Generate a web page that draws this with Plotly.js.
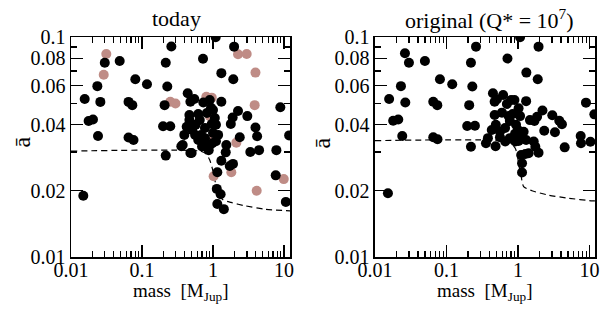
<!DOCTYPE html>
<html>
<head>
<meta charset="utf-8">
<script src="https://cdn.plot.ly/plotly-3.0.1.min.js"></script>
<style>html,body{margin:0;padding:0;background:#fff;}#chart{width:600px;height:310px;}</style>
</head>
<body>
<div id="chart"></div>
<script>
// ---- data: left panel ("today") ----
const leftBlackX = [0.0149,0.0156,0.0177,0.0204,0.0235,0.0240,0.0259,0.0299,0.0485,0.0646,0.0730,0.0646,0.0759,0.0805,0.1175,
  0.259,0.216,0.227,0.208,0.198,0.250,0.216,0.48,
  1.09,1.98,0.723,1.31,1.93,8.87,2.25,1.89,1.78,3.04,3.96,4.18,2.38,11.8,3.35,4.45,7.80,1.54,1.51,1.31,1.72,1.91,1.15,7.64,1.13,1.28,1.15,1.42,10.6,
  0.44,0.545,0.48,0.899,1.31,0.937,1.0,0.73,0.465,0.62,0.426,0.57,0.465,0.96,1.10,0.394,0.56,0.68,1.0,1.18,0.374,0.50,0.70,0.899,0.977,0.87,0.358,0.77,0.65,0.82,1.06,0.62,0.51,0.77,1.10];
const leftBlackY = [0.0190,0.0523,0.0415,0.0422,0.0598,0.0355,0.0507,0.0764,0.0778,0.0507,0.0490,0.0349,0.0340,0.0643,0.0610,
  0.0905,0.0764,0.0596,0.0490,0.0393,0.0393,0.0289,0.0297,
  0.0997,0.0904,0.0796,0.0685,0.0643,0.0479,0.0461,0.0431,0.0402,0.0437,0.0388,0.0354,0.0350,0.0357,0.0300,0.0306,0.0306,0.0323,0.0299,0.0274,0.0259,0.0265,0.0243,0.0235,0.0204,0.0193,0.0174,0.0165,0.0178,
  0.0555,0.0523,0.0508,0.0517,0.0508,0.0477,0.0466,0.0504,0.0442,0.0447,0.0391,0.0399,0.0419,0.0402,0.0399,0.0359,0.0359,0.0359,0.0366,0.0359,0.0323,0.0297,0.0318,0.0323,0.0329,0.0306,0.0319,0.0386,0.0419,0.0451,0.0428,0.0340,0.0378,0.0347,0.0336];
const leftPinkX = [0.0314,0.0289,0.250,0.296,2.25,2.98,3.96,3.86,2.13,1.02,1.81,4.12,9.91,0.805,0.96,0.90,0.90];
const leftPinkY = [0.0837,0.0674,0.0508,0.0499,0.0835,0.0837,0.0689,0.0490,0.0331,0.0233,0.0243,0.0200,0.0226,0.0535,0.0530,0.0437,0.0334];
const leftCurveX = [0.01,0.656,0.805,0.899,0.977,1.05,1.17,1.38,1.80,2.80,5.3,12.2];
const leftCurveY = [0.0303,0.0303,0.0294,0.0276,0.0253,0.0228,0.0195,0.0182,0.0177,0.0171,0.0165,0.0162];

// ---- data: right panel ("original") ----
const rightX = [0.0152,0.0158,0.0180,0.0212,0.0231,0.0241,0.0266,0.0263,0.0299,0.0500,0.0654,0.0745,0.0654,0.075,0.0811,0.1205,
  0.220,0.259,0.230,0.208,0.195,0.250,0.220,
  1.07,1.94,0.713,1.31,1.89,0.447,0.508,0.472,0.893,1.30,8.93,11.7,2.20,1.02,1.85,1.70,3.02,3.78,4.12,0.597,0.472,0.741,0.843,2.33,3.29,7.53,7.60,10.3,
  0.357,0.486,0.664,0.917,1.02,1.66,1.75,1.94,1.11,1.27,1.41,1.14,1.14,4.50,
  0.43,0.49,0.56,0.66,0.77,0.94,1.0,1.06,0.91,1.20,0.77,0.56,1.30,0.38,1.47,0.70,1.07,0.62,0.80];
const rightY = [0.0195,0.0523,0.0416,0.0422,0.0598,0.0355,0.0504,0.0843,0.0764,0.0778,0.0508,0.0490,0.0350,0.0343,0.0643,0.0610,
  0.0764,0.0904,0.0596,0.0490,0.0394,0.0395,0.0317,
  0.0997,0.0904,0.0798,0.0689,0.0643,0.0555,0.0521,0.0508,0.0517,0.0511,0.0503,0.0445,0.0463,0.0474,0.0434,0.0415,0.0441,0.0416,0.0401,0.0453,0.0442,0.0437,0.0447,0.0375,0.0369,0.0355,0.0329,0.0334,
  0.0329,0.0319,0.0335,0.0335,0.0337,0.0335,0.0317,0.0298,0.0291,0.0294,0.0296,0.0267,0.0242,0.0315,
  0.0378,0.0399,0.0371,0.0386,0.0415,0.0399,0.0378,0.0359,0.0363,0.0371,0.0347,0.0350,0.0340,0.0347,0.0419,0.0496,0.0437,0.0545,0.0517];
const rightCurveX = [0.01,0.658,0.824,0.916,0.968,1.04,1.11,1.20,1.57,2.69,5.12,10.8,11.9];
const rightCurveY = [0.0338,0.0337,0.0326,0.0312,0.0296,0.0257,0.0232,0.0209,0.0200,0.0191,0.0185,0.0180,0.0180];

// ---- ticks ----
const xTickVals = [0.01,0.1,1,10];
const xTickText = ["0.01","0.1","1","10"];
const xMinorVals = [0.02,0.03,0.04,0.05,0.06,0.07,0.08,0.09,0.2,0.3,0.4,0.5,0.6,0.7,0.8,0.9,2,3,4,5,6,7,8,9];
const yTickVals = [0.01,0.02,0.04,0.06,0.08,0.1];
const yTickText = ["0.01","0.02","0.04","0.06","0.08","0.1"];
const yMinorVals = [0.03,0.05,0.07,0.09];

const FONT = "Liberation Serif, Times New Roman, serif";
const black = "#000000";
const pink = "#bf8c86";

const traces = [
  {x:leftCurveX, y:leftCurveY, xaxis:'x', yaxis:'y', mode:'lines', line:{color:black,width:1.2,dash:'6px,4px',shape:'spline',smoothing:0.6}},
  {x:leftPinkX, y:leftPinkY, xaxis:'x', yaxis:'y', mode:'markers', marker:{color:pink,size:10}},
  {x:leftBlackX, y:leftBlackY, xaxis:'x', yaxis:'y', mode:'markers', marker:{color:black,size:10}},
  {x:rightCurveX, y:rightCurveY, xaxis:'x2', yaxis:'y2', mode:'lines', line:{color:black,width:1.2,dash:'6px,4px',shape:'spline',smoothing:0.6}},
  {x:rightX, y:rightY, xaxis:'x2', yaxis:'y2', mode:'markers', marker:{color:black,size:10}}
];

function xAxis(domain, anchor, range){
  return {type:'log', domain:domain, anchor:anchor, range:range,
    tickmode:'array', tickvals:xTickVals, ticktext:xTickText,
    ticks:'inside', ticklen:12, tickwidth:1.3, tickcolor:black, ticklabelstandoff:-6,
    minor:{tickmode:'array', tickvals:xMinorVals, ticks:'inside', ticklen:6, tickwidth:1.2, tickcolor:black, showgrid:false},
    showline:true, linecolor:black, linewidth:1.5, mirror:'allticks',
    showgrid:false, zeroline:false, tickfont:{family:FONT,size:20,color:black}};
}
function yAxis(anchor){
  return {type:'log', anchor:anchor, range:[-2,-1],
    tickmode:'array', tickvals:yTickVals, ticktext:yTickText,
    ticks:'inside', ticklen:12, tickwidth:1.3, tickcolor:black,
    minor:{tickmode:'array', tickvals:yMinorVals, ticks:'inside', ticklen:6, tickwidth:1.2, tickcolor:black, showgrid:false},
    showline:true, linecolor:black, linewidth:1.5, mirror:'allticks',
    showgrid:false, zeroline:false, tickfont:{family:FONT,size:20,color:black}};
}

const layout = {
  width:600, height:310,
  margin:{l:71, r:5, t:37, b:53},
  paper_bgcolor:'#fff', plot_bgcolor:'#fff',
  showlegend:false,
  xaxis: xAxis([0,0.418],'y',[-2,1.0845]),
  yaxis: yAxis('x'),
  xaxis2: xAxis([0.580,1],'y2',[-2,1.077]),
  yaxis2: yAxis('x2'),
  font:{family:FONT,color:black},
  annotations:[
    {text:'today', xref:'x domain', yref:'paper', x:0.48, y:1.0, yanchor:'bottom', yshift:4, showarrow:false, font:{family:FONT,size:22,color:black}},
    {text:'original (Q* = 10<sup>7</sup>)', xref:'x2 domain', yref:'paper', x:0.52, y:1.0, yanchor:'bottom', yshift:2, showarrow:false, font:{family:FONT,size:22,color:black}},
    {text:'mass  [M<sub>Jup</sub>]', xref:'x domain', yref:'paper', x:0.5, y:-0.16, yanchor:'middle', showarrow:false, font:{family:FONT,size:19,color:black}},
    {text:'mass  [M<sub>Jup</sub>]', xref:'x2 domain', yref:'paper', x:0.5, y:-0.16, yanchor:'middle', showarrow:false, font:{family:FONT,size:19,color:black}},
    {text:'ā', xref:'paper', yref:'paper', x:-0.0935, y:0.52, xanchor:'center', yanchor:'middle', textangle:-90, showarrow:false, font:{family:FONT,size:24,color:black}},
    {text:'ā', xref:'paper', yref:'paper', x:0.479, y:0.52, xanchor:'center', yanchor:'middle', textangle:-90, showarrow:false, font:{family:FONT,size:24,color:black}}
  ]
};

Plotly.newPlot('chart', traces, layout, {displayModeBar:false, staticPlot:true});
</script>
</body>
</html>
